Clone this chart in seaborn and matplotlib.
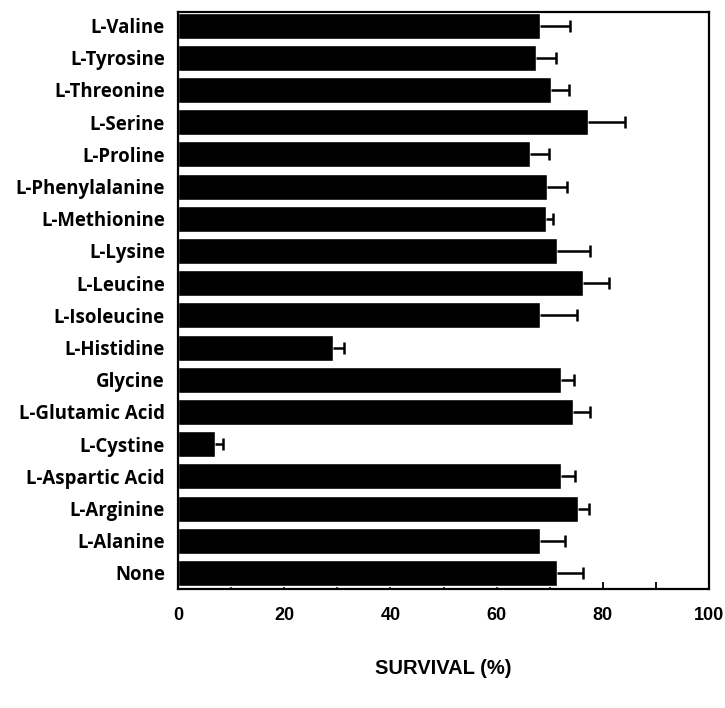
import numpy as np
import matplotlib
matplotlib.use("Agg")
import matplotlib.pyplot as plt
import seaborn as sns
from matplotlib.ticker import MultipleLocator

# amino acid supplements, top to bottom as in the figure
amino_acids = ['L-Valine', 'L-Tyrosine', 'L-Threonine', 'L-Serine', 'L-Proline',
               'L-Phenylalanine', 'L-Methionine', 'L-Lysine', 'L-Leucine',
               'L-Isoleucine', 'L-Histidine', 'Glycine', 'L-Glutamic Acid',
               'L-Cystine', 'L-Aspartic Acid', 'L-Arginine', 'L-Alanine', 'None']
survival = [68.1, 67.4, 70.2, 77.3, 66.2, 69.4, 69.3, 71.4, 76.2,
            68.1, 29.1, 72.1, 74.3, 7.0, 72.1, 75.3, 68.1, 71.3]
error = [5.7, 3.7, 3.4, 6.9, 3.7, 3.9, 1.3, 6.1, 4.9,
         7.1, 2.2, 2.4, 3.2, 1.4, 2.7, 2.1, 4.8, 4.9]
x_ticks = [0, 20, 40, 60, 80, 100]

sns.set_style('white')
plt.rcParams['font.family'] = ['Liberation Sans', 'DejaVu Sans']
plt.rcParams['text.color'] = 'black'
plt.rcParams['axes.labelcolor'] = 'black'
plt.rcParams['xtick.color'] = 'black'
plt.rcParams['ytick.color'] = 'black'

fig = plt.figure(figsize=(7.25, 7.08), dpi=100)
ax = fig.add_axes([0.2455, 0.168, 0.7325, 0.815])

sns.barplot(x=survival, y=amino_acids, color='black', width=0.81,
            orient='h', errorbar=None, ax=ax, saturation=1)

#one-sided error bars to the right
_, caps, _ = ax.errorbar(survival, np.arange(len(survival)),
                         xerr=[np.zeros(len(error)), error],
                         fmt='none', ecolor='black', elinewidth=1.8,
                         capsize=4.5, capthick=1.8)
caps[0].set_visible(False)  # no cap at the bar end

ax.set_xlim(0, 100)
ax.set_ylim(17.5, -0.42)
ax.set_xticks(x_ticks)
ax.set_xticklabels([str(t) for t in x_ticks])
ax.xaxis.set_minor_locator(MultipleLocator(10))
ax.tick_params(axis='x', which='both', direction='in', bottom=True, length=5,
               width=1.3, labelsize=13, pad=13)
ax.tick_params(axis='y', left=False, pad=6)
for lab in ax.get_xticklabels():
    lab.set_fontweight('bold')
for lab in ax.get_yticklabels():
    lab.set_fontfamily(['Open Sans', 'DejaVu Sans'])
    lab.set_fontweight('bold')
    lab.set_fontsize(13.4)
ax.set_ylabel('')
ax.set_xlabel('SURVIVAL (%)', fontsize=14.5, fontweight='bold', labelpad=25)

for side in ['left', 'right', 'top', 'bottom']:
    ax.spines[side].set_visible(True)
    ax.spines[side].set_color('black')
    ax.spines[side].set_linewidth(1.6)

fig.savefig('out.png', dpi=100)
